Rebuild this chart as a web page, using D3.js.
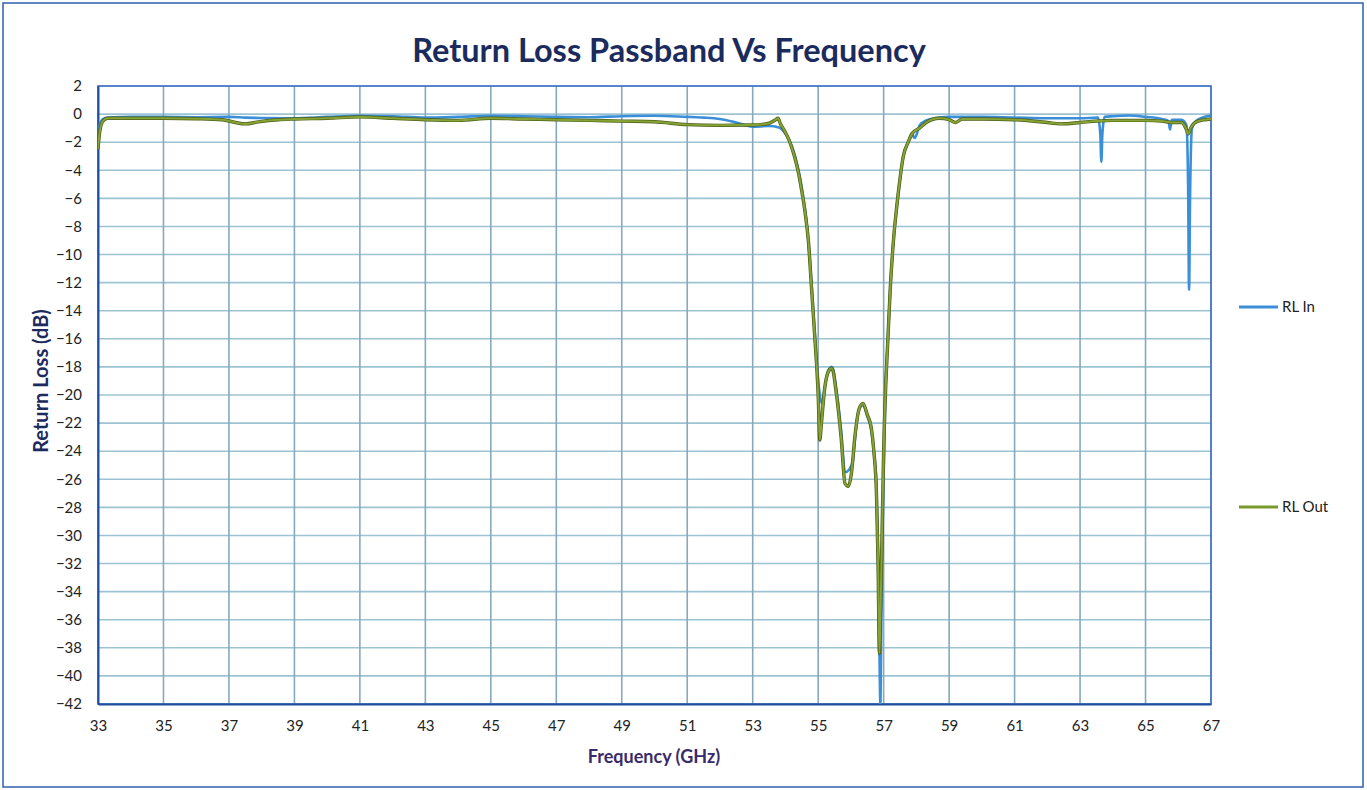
<!DOCTYPE html>
<html><head><meta charset="utf-8">
<script src="https://cdn.jsdelivr.net/npm/d3@7"></script>
<style>
html,body{margin:0;padding:0;background:#fff;}
svg{display:block;font-family:Lato,"Open Sans",sans-serif;}
</style></head>
<body>
<svg id="chart" width="1367" height="790"></svg>
<script>
const xTicks = [33,35,37,39,41,43,45,47,49,51,53,55,57,59,61,63,65,67];
const yTicks = [2,0,-2,-4,-6,-8,-10,-12,-14,-16,-18,-20,-22,-24,-26,-28,-30,-32,-34,-36,-38,-40,-42];

const freqIn = [33.00,33.05,33.15,33.3,34,35,36,37,37.5,38,39,40,41,42,43,44,45,46,47,48,49,50,51,51.5,52,52.5,53,53.5,53.8,54.0,54.2,54.4,54.55,54.65,54.75,54.85,54.95,55.05,55.12,55.2,55.3,55.42,55.55,55.7,55.82,55.95,56.05,56.15,56.25,56.37,56.5,56.62,56.7,56.78,56.83,56.87,56.9,56.93,56.98,57.05,57.13,57.2,57.3,57.4,57.5,57.6,57.75,57.85,57.95,58.0,58.1,58.3,58.7,59,60,61,62,63,63.55,63.62,63.65,63.68,63.75,64,64.5,65,65.5,65.7,65.75,65.8,66.1,66.25,66.3,66.33,66.36,66.42,66.6,67];
const rlIn = [-1.6,-0.8,-0.35,-0.25,-0.2,-0.2,-0.22,-0.2,-0.25,-0.28,-0.3,-0.2,-0.12,-0.15,-0.25,-0.2,-0.12,-0.15,-0.2,-0.22,-0.15,-0.12,-0.2,-0.25,-0.35,-0.6,-0.9,-0.85,-0.95,-1.4,-2.3,-4.0,-6.0,-7.8,-10.5,-14,-17.5,-20,-20.6,-19.5,-18.3,-18.0,-19.5,-22.5,-25.5,-25.3,-24.8,-22.5,-21.0,-20.7,-21.5,-22.5,-24,-26.5,-32,-38,-42,-36,-28,-20,-16,-12.5,-9,-6.6,-4.6,-3.0,-2.0,-1.4,-1.7,-1.5,-0.8,-0.45,-0.25,-0.2,-0.2,-0.25,-0.3,-0.3,-0.25,-1.5,-3.4,-1.5,-0.2,-0.15,-0.1,-0.2,-0.35,-0.5,-1.1,-0.4,-0.4,-0.8,-5,-12.5,-6,-1.0,-0.4,-0.1];

const freqOut = [33.0,33.05,33.15,33.3,34,35,36,36.8,37.2,37.5,37.9,38.5,39,40,41,42,43,44,45,46,47,48,49,50,51,52,53,53.5,53.7,53.77,53.85,53.95,54.1,54.25,54.4,54.5,54.6,54.7,54.8,54.9,55.0,55.05,55.1,55.2,55.32,55.42,55.55,55.7,55.82,55.92,56.02,56.12,56.25,56.37,56.5,56.62,56.7,56.78,56.83,56.87,56.9,56.95,57.0,57.07,57.13,57.2,57.3,57.4,57.5,57.6,57.75,57.9,58.1,58.3,58.7,59.0,59.2,59.4,60,61,62,62.4,63,63.5,64,65,65.5,65.8,66.1,66.25,66.3,66.4,66.6,67];
const rlOut = [-2.5,-1.3,-0.5,-0.3,-0.3,-0.3,-0.33,-0.4,-0.6,-0.7,-0.55,-0.4,-0.35,-0.3,-0.2,-0.3,-0.4,-0.45,-0.3,-0.35,-0.4,-0.45,-0.5,-0.55,-0.75,-0.8,-0.78,-0.65,-0.4,-0.3,-0.7,-1.1,-1.8,-2.8,-4.2,-5.5,-7.0,-9.0,-12.5,-16,-20,-23.2,-22,-19.5,-18.3,-18.1,-19.8,-23,-26.3,-26.5,-25.5,-23,-21,-20.6,-21.4,-22.3,-24,-27,-32,-38.4,-36,-30,-24,-19,-16,-12.5,-9,-6.6,-4.6,-3.0,-2.0,-1.3,-1.0,-0.6,-0.3,-0.4,-0.6,-0.35,-0.35,-0.4,-0.6,-0.7,-0.6,-0.5,-0.45,-0.45,-0.5,-0.6,-0.6,-1.1,-1.4,-0.9,-0.5,-0.35];

const seriesNames = ["RL In","RL Out"];

const svg = d3.select("#chart");
const W = 1367, H = 790;
const L = 98, R = 1211, T = 86, B = 704;

svg.append("rect").attr("x",3).attr("y",3).attr("width",W-7).attr("height",H-6)
  .attr("fill","#fff").attr("stroke","#2f5fae").attr("stroke-width",1.5);

const x = d3.scaleLinear().domain([33,67]).range([L,R]);
const y = d3.scaleLinear().domain([-42,2]).range([B,T]);

const grid = svg.append("g");
grid.selectAll("line.h").data(yTicks).join("line")
  .attr("x1",L).attr("x2",R).attr("y1",d=>y(d)).attr("y2",d=>y(d))
  .attr("stroke","#9cc3d2").attr("stroke-width",1.6);
grid.selectAll("line.v").data(xTicks).join("line")
  .attr("y1",T).attr("y2",B).attr("x1",d=>x(d)).attr("x2",d=>x(d))
  .attr("stroke","#86a9bd").attr("stroke-width",1.6);

svg.append("rect").attr("x",L).attr("y",T).attr("width",R-L).attr("height",B-T)
  .attr("fill","none").attr("stroke","#3a6cc4").attr("stroke-width",1.5);

// axes
const yAxis = d3.axisLeft(y).tickValues(yTicks).tickSize(0).tickPadding(16);
const gy = svg.append("g").attr("transform",`translate(${L},0)`).call(yAxis);
gy.select(".domain").attr("stroke","#1f4f9e").attr("stroke-width",2);
gy.selectAll("text").attr("font-size",15).attr("fill","#222").attr("font-family","Lato, sans-serif");

const xAxis = d3.axisBottom(x).tickValues(xTicks).tickSize(0).tickPadding(16);
const gx = svg.append("g").attr("transform",`translate(0,${B})`).call(xAxis);
gx.select(".domain").attr("stroke","#1f4f9e").attr("stroke-width",2);
gx.selectAll("text").attr("font-size",15).attr("fill","#222").attr("font-family","Lato, sans-serif");

svg.append("clipPath").attr("id","clip").append("rect")
  .attr("x",L).attr("y",T-2).attr("width",R-L).attr("height",B-T+2);

const line = d3.line().x(d=>x(d[0])).y(d=>y(d[1])).curve(d3.curveMonotoneX);
const dataIn = freqIn.map((f,i)=>[f,rlIn[i]]);
const dataOut = freqOut.map((f,i)=>[f,rlOut[i]]);

const plot = svg.append("g").attr("clip-path","url(#clip)");
plot.append("path").datum(dataIn).attr("d",line).attr("fill","none")
  .attr("stroke","#3b8fd8").attr("stroke-width",2.6).attr("stroke-linejoin","round");
plot.append("path").datum(dataOut).attr("d",line).attr("fill","none")
  .attr("stroke","#4d5e18").attr("stroke-width",3.4).attr("stroke-linejoin","round");
plot.append("path").datum(dataOut).attr("d",line).attr("fill","none")
  .attr("stroke","#86a334").attr("stroke-width",2.0).attr("stroke-linejoin","round");

// title
svg.append("text").attr("x",669).attr("y",62).attr("text-anchor","middle")
  .attr("font-size",32.5).attr("font-weight","bold").attr("fill","#1c2b5e")
  .text("Return Loss Passband Vs Frequency");

svg.append("text").attr("x",654).attr("y",763).attr("text-anchor","middle")
  .attr("font-size",18).attr("font-weight","bold").attr("fill","#3a2a6a")
  .text("Frequency (GHz)");

svg.append("text").attr("transform",`translate(48,${(T+B)/2 - 14}) rotate(-90)`)
  .attr("text-anchor","middle").attr("font-size",20).attr("font-weight","bold").attr("fill","#1c2b5e")
  .text("Return Loss (dB)");

// legend
const legY = [307,507];
const legCol = ["#3b8fd8","#7a9a2c"];
const leg = svg.append("g");
seriesNames.forEach((n,i)=>{
  leg.append("line").attr("x1",1239).attr("x2",1278).attr("y1",legY[i]).attr("y2",legY[i])
    .attr("stroke",legCol[i]).attr("stroke-width",3);
  leg.append("text").attr("x",1282).attr("y",legY[i]+5).attr("font-size",15).attr("fill","#222")
    .text(n);
});
</script>
</body></html>
